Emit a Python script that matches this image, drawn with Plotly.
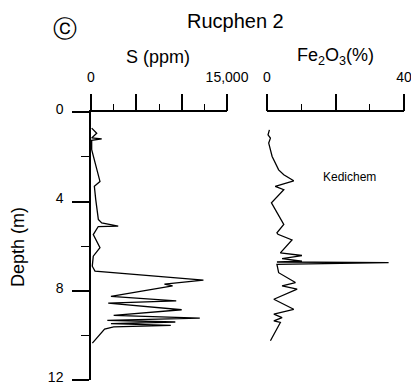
import plotly.graph_objects as go

# ---- data ----
s_depth = [0.71, 0.94, 1.15, 1.19, 1.26, 1.68, 3.10, 3.32, 3.90, 4.80, 4.96, 5.10, 5.12,
           5.48, 6.07, 6.45, 6.90, 7.12, 7.52, 7.70, 7.78, 8.25, 8.45, 8.55, 8.85, 9.10,
           9.23, 9.33, 9.40, 9.47, 9.55, 9.62, 9.72, 10.35]
s_ppm = [75, 630, 75, 1180, 75, 75, 990, 370, 520, 810, 1180, 3000, 800,
         250, 990, 250, 140, 440, 12400, 8100, 9000, 2200, 9400, 1900, 10000, 2500,
         12000, 1800, 9300, 2200, 8800, 2500, 1500, 150]

fe_depth = [0.79, 1.01, 1.16, 1.38, 1.98, 2.58, 2.80, 3.07, 3.32, 3.47, 4.06, 4.81, 5.03,
            5.40, 5.47, 5.72, 6.07, 6.30, 6.42, 6.56, 6.67, 6.71, 6.74, 6.82, 7.19, 7.63,
            7.78, 7.93, 8.38, 8.83, 9.05, 9.20, 9.35, 9.42, 10.24]
fe_pct = [0.7, 0.3, 1.0, 0.5, 1.5, 3.4, 4.9, 7.8, 2.4, 4.9, 1.3, 3.9, 4.9,
          2.9, 3.2, 7.3, 5.3, 3.9, 10.2, 4.4, 10.2, 2.9, 35.5, 2.9, 3.4, 8.3,
          4.4, 8.8, 2.0, 7.8, 2.0, 4.4, 2.0, 3.9, 1.0]

s_ticks = [0, 5000, 10000, 15000]
s_ticktext = ["0", "", "", "15,000"]
s_minor = [2500, 7500, 12500]
fe_ticks = [0, 20, 40]
fe_ticktext = ["0", "", "40"]
fe_minor = [10, 30]
depth_ticks = [0, 4, 8, 12]
depth_minor = [2, 6, 10]

W, H = 411, 386
FONT = "Liberation Sans, Arial, Helvetica, sans-serif"

fig = go.Figure()
fig.add_trace(go.Scatter(x=s_ppm, y=s_depth, mode="lines", xaxis="x", yaxis="y",
                         line=dict(color="black", width=1.3), showlegend=False))
fig.add_trace(go.Scatter(x=fe_pct, y=fe_depth, mode="lines", xaxis="x2", yaxis="y",
                         line=dict(color="black", width=1.3), showlegend=False))

def px(x):
    return x / W

def py(y):
    return 1 - y / H

common_x = dict(side="top", anchor="y", showline=True, linecolor="black", linewidth=1.5,
                ticks="outside", ticklen=17, tickwidth=1.5, tickcolor="black",
                showgrid=False, zeroline=False, tickfont=dict(size=14, color="black"),
                ticklabelstandoff=6, ticklabeloverflow="allow", automargin=False)

fig.update_layout(
    width=W, height=H,
    margin=dict(l=0, r=0, t=0, b=0, pad=0, autoexpand=False),
    showlegend=False,
    paper_bgcolor="white", plot_bgcolor="white",
    font=dict(family=FONT, color="black"),
    xaxis=dict(domain=[px(91), px(227)], range=[0, 15000], tickvals=s_ticks,
               ticktext=s_ticktext,
               minor=dict(tickvals=s_minor, ticklen=7, tickwidth=1.2, ticks="outside",
                          tickcolor="black", showgrid=False),
               **common_x),
    xaxis2=dict(domain=[px(267), px(404)], range=[0, 40], tickvals=fe_ticks,
                ticktext=fe_ticktext,
                minor=dict(tickvals=fe_minor, ticklen=7, tickwidth=1.2, ticks="outside",
                           tickcolor="black", showgrid=False),
                **common_x),
    yaxis=dict(domain=[py(380), py(112.3)], range=[12, 0], anchor="x", side="left",
               showline=True, linecolor="black", linewidth=1.5,
               ticks="outside", ticklen=17, tickwidth=1.5, tickcolor="black",
               tickvals=depth_ticks, showgrid=False, zeroline=False,
               tickfont=dict(size=14, color="black"), ticklabelstandoff=6,
               ticklabelshift=3,
               ticklabeloverflow="allow", automargin=False,
               minor=dict(tickvals=depth_minor, ticklen=8, tickwidth=1.2, ticks="outside",
                          tickcolor="black", showgrid=False)),
)

ann = [
    dict(text="Rucphen 2", x=px(235.5), y=py(21), font=dict(size=20)),
    dict(text="ⓒ", x=px(65), y=py(28), font=dict(size=24)),
    dict(text="S (ppm)", x=px(158), y=py(57), font=dict(size=18)),
    dict(text="Fe<sub>2</sub>O<sub>3</sub>(%)", x=px(335), y=py(57), font=dict(size=18)),
    dict(text="Depth (m)", x=px(18.5), y=py(247.5), font=dict(size=18), textangle=-90),
    dict(text="Kedichem", x=px(349), y=py(177), font=dict(size=12)),
]
for a in ann:
    fig.add_annotation(xref="paper", yref="paper", showarrow=False,
                       xanchor="center", yanchor="middle", **a)

fig.write_html("out.html")
